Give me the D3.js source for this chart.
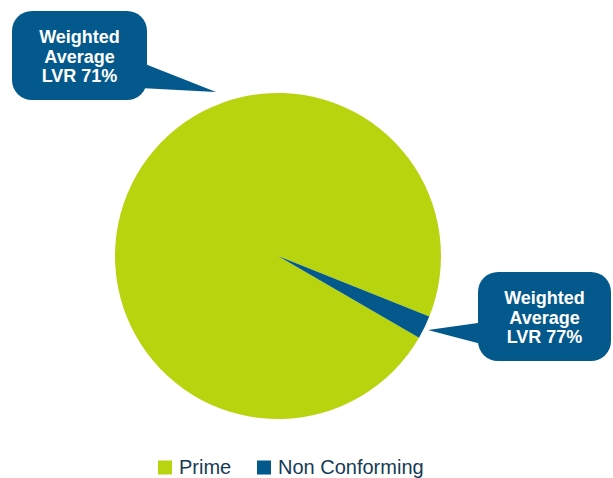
<!DOCTYPE html>
<html><head><meta charset="utf-8">
<script src="https://cdn.jsdelivr.net/npm/d3@7"></script>
<style>body{margin:0;background:#fff}svg{display:block}</style>
</head><body>
<script>
const categories = ["Prime", "Non Conforming"];
const values = [97.7, 2.3];
const colors = ["#b8d40e", "#04598c"];
const calloutLines = [["Weighted", "Average", "LVR 71%"], ["Weighted", "Average", "LVR 77%"]];

const W = 613, H = 478;
const FONT = "'Liberation Sans', Arial, Helvetica, sans-serif";
const svg = d3.select("body").append("svg").attr("width", W).attr("height", H);
const cx = 278, cy = 256, R = 163;
const start = 120.1 * Math.PI / 180;
const pie = d3.pie().sort(null).startAngle(start).endAngle(start + 2 * Math.PI);
const arcs = pie(values);
const arc = d3.arc().innerRadius(0).outerRadius(R);
const color = d3.scaleOrdinal().domain(categories).range(colors);

svg.append("g").attr("transform", `translate(${cx},${cy})`)
  .selectAll("path").data(arcs).join("path")
  .attr("d", arc).attr("fill", (d, i) => color(categories[i]));

// callouts
const callouts = [
  {x: 12, y: 11, w: 135, h: 89, tip: [216, 92], base: [[140, 62], [140, 88]], cxText: 79.5, y0: 43},
  {x: 478, y: 272, w: 133, h: 89, tip: [428, 330], base: [[485, 322], [485, 345]], cxText: 544.5, y0: 304}
];
callouts.forEach((c, i) => {
  const g = svg.append("g");
  g.append("rect").attr("x", c.x).attr("y", c.y).attr("width", c.w).attr("height", c.h)
    .attr("rx", 20).attr("ry", 20).attr("fill", colors[1]);
  g.append("path").attr("d", d3.line()([c.base[0], c.tip, c.base[1]]) + "Z").attr("fill", colors[1]);
  g.selectAll("text").data(calloutLines[i]).join("text")
    .attr("x", c.cxText).attr("y", (d, j) => c.y0 + j * 19.5)
    .attr("text-anchor", "middle").attr("fill", "#fff")
    .style("font-family", FONT).attr("font-weight", "bold")
    .attr("font-size", 18).text(d => d);
});

// legend
const legendX = [158, 257];
const lg = svg.append("g");
categories.forEach((c, i) => {
  lg.append("rect").attr("x", legendX[i]).attr("y", 460.5).attr("width", 14).attr("height", 14)
    .attr("fill", color(c));
  lg.append("text").attr("x", legendX[i] + 21).attr("y", 473.5)
    .style("font-family", FONT).attr("font-size", 20)
    .attr("fill", "#153a55").text(c);
});
</script>
</body></html>
